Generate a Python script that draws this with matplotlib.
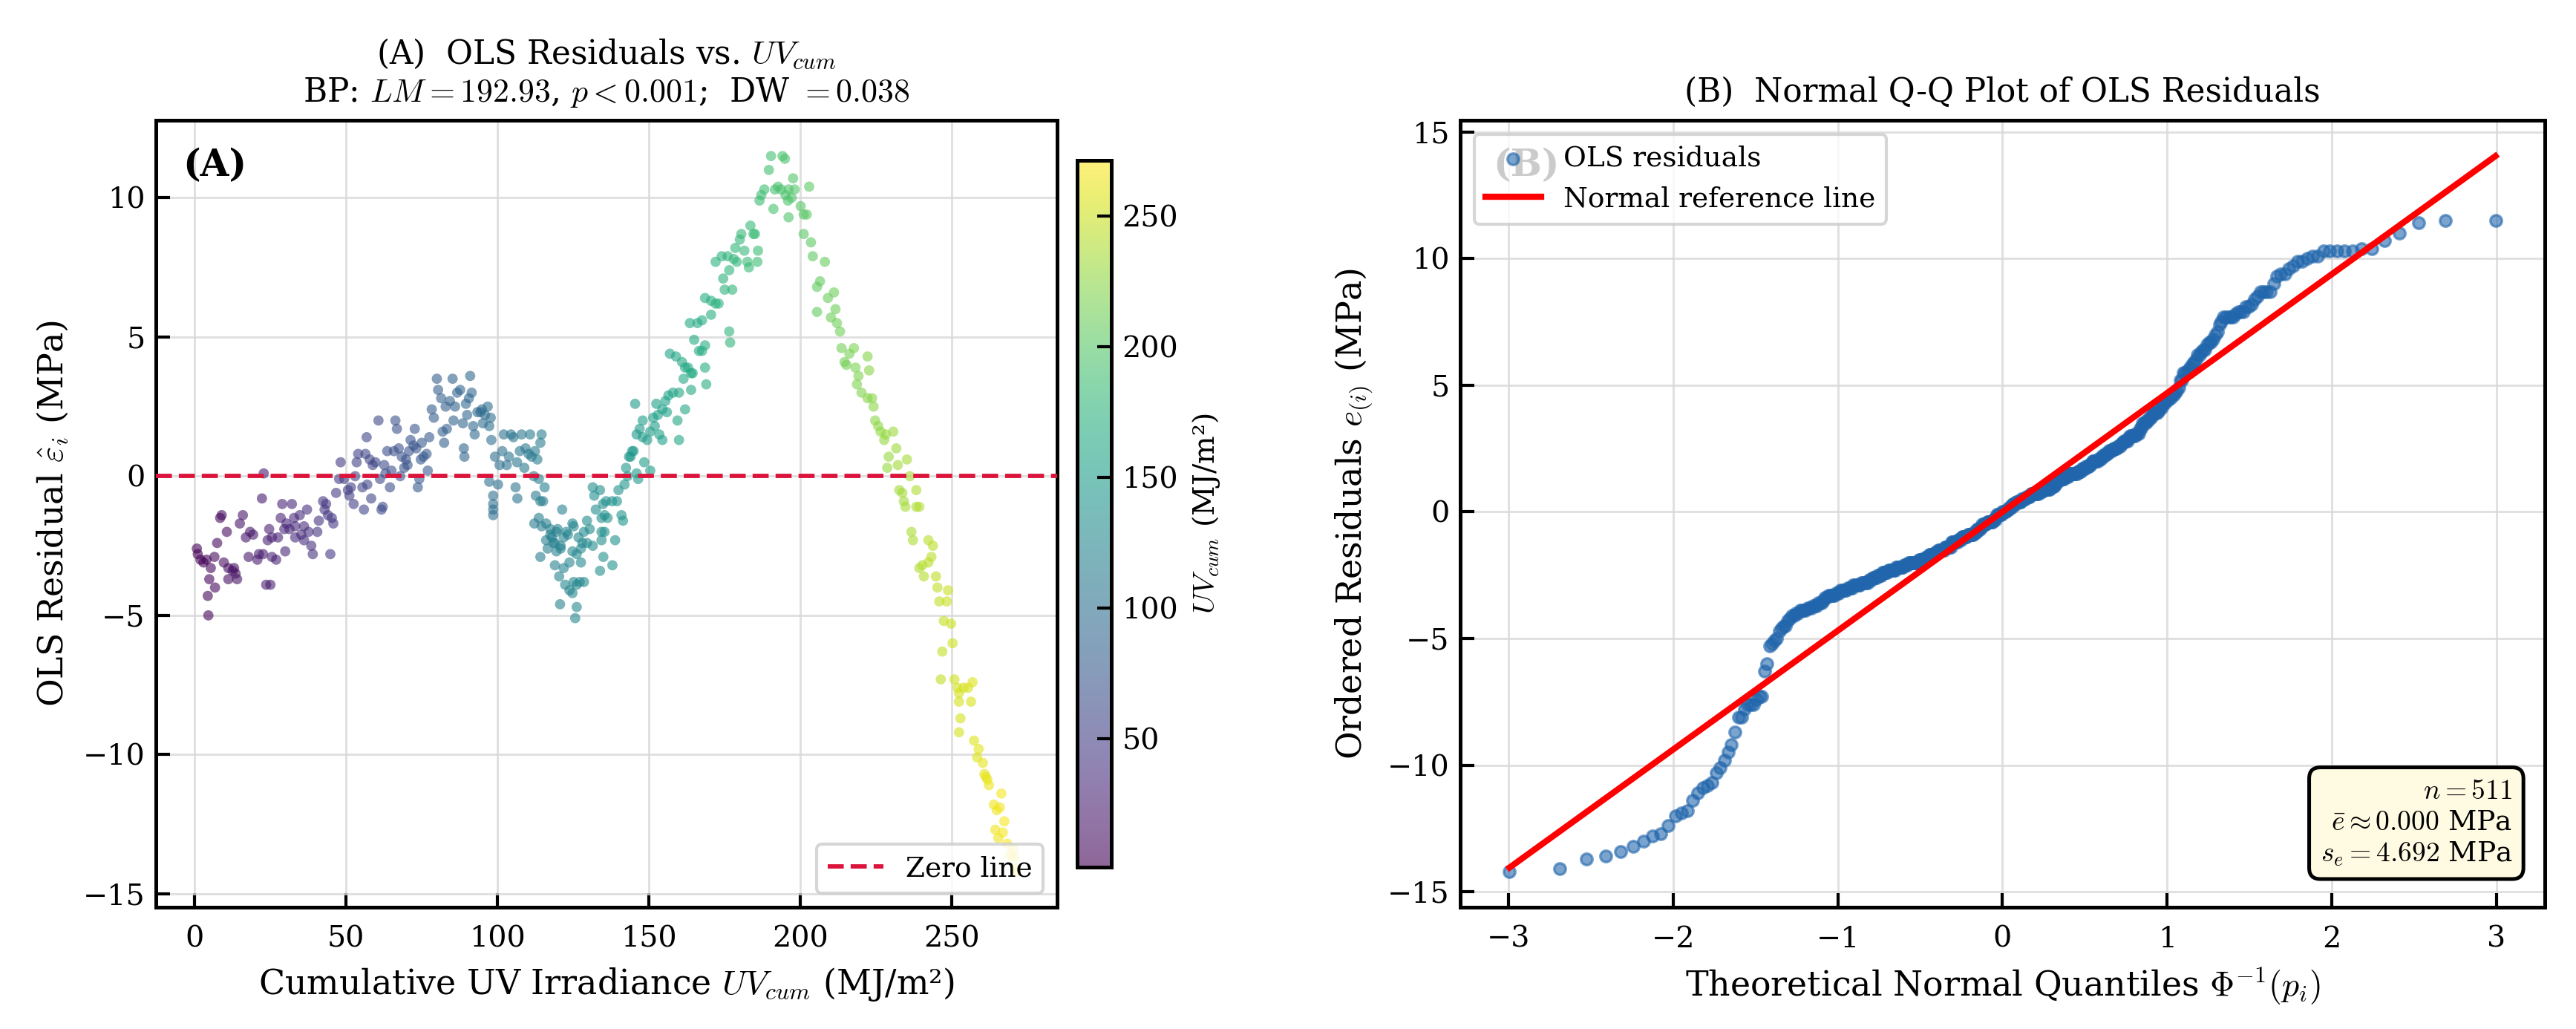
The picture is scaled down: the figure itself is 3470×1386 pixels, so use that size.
# OLS residual diagnostics: residuals vs cumulative UV, plus normal Q-Q plot

from statistics import NormalDist

import matplotlib

matplotlib.use("Agg")
import matplotlib.pyplot as plt
import numpy as np

plt.rcParams["font.family"] = ["DejaVu Serif"]
plt.rcParams["mathtext.fontset"] = "cm"

# residuals, grouped roughly by UV_cum range
uv_low = [0.7, 7.4, 8.4, 8.9, 10.6, 14.9, 15.9, 16.9, 18.3, 19.3, 22.2, 22.8, 24.6, 24.1, 25.5,
          27.5, 28.9, 28.4, 29.6, 30.3, 31.3, 32.1, 32.8, 33.2, 34.7, 35.2, 36.1, 37.1, 37.6,
          38.5, 40.5, 41.0, 42.4, 42.9, 43.4, 44.0, 45.3, 45.8, 44.8,
          1.0, 1.9, 2.9, 3.9, 5.3, 6.5, 4.8, 4.3, 6.7, 4.5, 9.6, 11.1, 12.5, 13.5, 14.0, 11.1,
          13.0, 17.8, 20.7, 21.2, 22.6, 25.5, 26.9, 23.6, 25.0, 29.9, 33.2, 36.1, 39.0]
res_low = [-2.6, -2.4, -1.5, -1.4, -2.0, -1.7, -1.4, -2.2, -2.0, -2.1, -0.8, 0.1, -1.9, -2.3, -2.2,
           -2.2, -1.0, -1.5, -1.9, -1.7, -1.9, -1.0, -1.5, -1.8, -1.4, -2.1, -1.8, -1.2, -2.0,
           -2.5, -2.0, -1.6, -0.9, -1.2, -1.0, -1.4, -1.5, -1.7, -2.8,
           -2.8, -3.0, -3.1, -3.0, -3.3, -2.9, -3.7, -4.3, -4.0, -5.0, -3.1, -3.3, -3.4, -3.5, -3.7, -3.7,
           -3.3, -2.9, -3.0, -2.8, -2.8, -2.9, -3.0, -3.9, -3.9, -2.7, -2.2, -2.3, -2.8]

uv_hump = [46.7, 48.2, 47.7, 49.4, 50.6, 51.1, 51.6, 52.5, 53.5, 54.0, 55.4, 55.9, 56.4, 56.8, 57.8,
           58.3, 58.8, 59.7, 60.7, 61.2, 61.7, 62.1, 62.6, 63.6, 64.5, 65.0, 65.8, 66.3, 66.8, 67.4,
           67.9, 68.4, 69.2, 69.8, 70.3, 71.3, 72.3, 72.7, 73.2, 74.2, 73.7, 74.7, 75.6, 76.6, 77.5,
           78.3, 79.0, 80.0, 80.4, 81.4, 82.4, 81.9, 83.3, 82.9, 84.3, 85.2, 86.0, 86.7, 87.7, 88.6,
           89.1, 88.9, 89.6, 90.6, 91.0, 91.5, 92.0, 92.5, 93.4, 94.4, 94.9, 95.9, 96.8, 97.3, 97.8,
           98.0, 70.8, 75.0, 77.0, 63.0, 57.0, 53.0, 85.5, 90.0, 95.2]
res_hump = [-0.6, 0.5, -0.1, -0.1, -0.5, -0.7, -0.4, -1.0, 0.5, 0.8, -0.4, -1.2, 0.8, 1.4, 0.6,
            -0.8, 0.4, 0.5, 2.0, -0.1, -1.2, -1.1, 0.4, 0.9, -0.4, 0.2, 0.9, 2.0, 1.7, 1.0,
            0.0, 0.7, 0.3, 0.6, 0.4, 1.3, 1.1, 1.7, 1.0, -0.1, -0.4, 0.6, 0.7, 0.8, 1.4,
            2.4, 2.1, 3.5, 3.1, 2.8, 1.2, 1.6, 1.7, 2.5, 2.7, 3.5, 2.5, 3.0, 3.1, 1.9,
            0.7, 1.0, 2.6, 2.8, 3.6, 3.0, 1.8, 1.5, 2.3, 2.3, 2.4, 2.2, 2.5, 1.8, 2.1,
            1.3, 0.9, 1.2, 0.2, 0.1, -0.3, 0.0, 2.0, 2.2, 1.9]

uv_mid = [97.3, 98.6, 98.6, 98.6, 98.6, 99.2, 100.2, 100.7, 101.6, 102.1, 103.1, 103.8, 104.5, 105.3,
          106.0, 106.5, 106.6, 107.4, 108.0, 108.9, 109.3, 110.3, 110.8, 111.3, 112.0, 112.4, 113.2,
          113.7, 114.6, 114.2, 112.7, 114.2, 115.1, 115.6]
res_mid = [-0.2, -0.7, -1.0, -1.2, -1.4, 0.7, -0.3, 0.4, 0.9, 1.5, 0.4, 0.7, 1.5, 1.4,
           -0.4, 0.5, -0.8, 0.9, 1.5, 0.3, 1.0, 0.8, 1.5, 0.7, 0.0, 0.9, 0.6,
           -0.1, 1.5, 1.2, -0.7, -0.9, -0.9, -0.4]

uv_dip = [112.2, 113.7, 114.6, 116.1, 117.5, 118.0, 119.0, 119.5, 120.9, 121.4, 121.9, 123.3, 124.8,
          126.8, 128.1, 129.6, 131.5, 132.0, 132.5, 133.9, 134.9, 135.4,
          114.2, 116.1, 116.6, 117.5, 118.5, 119.5, 119.9, 120.9, 119.0, 120.4, 121.9, 122.4, 122.8,
          123.8, 124.8, 125.2, 126.2, 127.2, 128.6, 120.7, 126.2, 125.7, 123.8, 124.8, 126.2, 127.6,
          127.6, 129.6, 131.5, 133.9, 134.4, 125.2, 128.6, 130.5,
          134.4, 136.4, 135.9, 137.9, 139.5, 141.0, 141.5, 135.4, 138.9, 140.0, 142.0, 135.0, 138.0, 134.4]
res_dip = [-1.7, -1.5, -1.8, -1.7, -1.9, -2.2, -2.4, -2.0, -2.5, -1.2, -2.2, -2.1, -1.7,
           -2.2, -2.4, -1.6, -0.4, -0.7, -1.2, -0.5, -1.0, -1.4,
           -2.9, -2.3, -2.6, -2.1, -2.4, -2.7, -1.9, -2.6, -3.2, -3.6, -3.3, -3.9, -2.0,
           -4.1, -4.2, -3.8, -3.9, -3.8, -3.8, -4.6, -4.7, -5.1, -3.1, -2.7, -2.8, -3.1,
           -2.6, -2.4, -2.5, -3.4, -2.0, -1.8, -2.0, -1.9,
           -1.5, -1.5, -0.9, -0.9, -0.9, -1.4, -1.6, -2.0, -2.3, -0.5, -0.3, -2.9, -3.2, -2.3]

uv_rise = [143.0, 142.5, 143.5, 144.5, 144.0, 146.5, 146.0, 148.5, 150.5, 145.0, 146.0, 147.0, 148.0,
           149.5, 148.0, 150.5, 152.0, 153.5, 154.5, 151.5, 152.5, 153.0, 154.5, 156.0, 155.5, 156.5,
           158.0, 160.0, 159.5, 160.0, 162.0, 164.0, 161.5, 164.0, 145.5, 157.0, 159.0, 161.0, 162.0,
           163.0, 164.5, 168.6, 169.0, 166.6, 167.6, 168.6, 165.0, 163.6, 166.1, 167.6, 170.6, 168.6,
           170.6, 172.1, 173.1, 176.6, 176.9, 175.1, 177.6, 174.6, 176.6, 172.1, 174.1, 176.1, 178.1,
           179.1, 178.6, 180.1, 180.6, 181.6, 182.6, 183.1, 183.6, 184.6, 185.1, 186.1, 185.9]
res_rise = [0.0, 0.3, 0.7, 0.9, 0.7, -0.1, 0.1, 0.5, 0.2, 0.9, 1.5, 1.7, 1.4,
            1.3, 2.0, 1.6, 1.8, 1.5, 1.3, 2.1, 2.6, 2.2, 2.4, 2.3, 2.7, 2.9,
            3.0, 3.0, 2.0, 1.3, 2.4, 3.1, 3.5, 3.7, 2.6, 4.4, 4.3, 4.1, 3.9,
            3.9, 3.7, 3.9, 3.3, 4.5, 4.5, 4.7, 4.9, 5.5, 5.5, 5.6, 5.8, 6.4,
            6.3, 6.2, 6.2, 5.2, 4.8, 6.7, 6.7, 7.1, 7.4, 7.7, 7.9, 7.9, 7.8,
            7.7, 8.2, 8.5, 8.7, 8.1, 7.7, 7.5, 9.0, 8.7, 8.7, 8.1, 7.7]

uv_peak = [186.6, 188.2, 187.2, 189.7, 190.4, 194.2, 195.0, 191.7, 192.7, 193.7, 195.2, 196.2, 198.2,
           197.7, 197.2, 191.2, 196.2, 196.0, 200.2, 201.2, 202.2, 203.0, 201.2, 203.6, 204.2, 208.2,
           206.6, 205.6, 209.2, 211.2, 205.6, 210.2, 211.7, 212.2, 213.2, 213.7, 216.3, 217.8, 214.7,
           215.3, 218.3, 222.3, 222.8, 219.3, 218.8, 220.3, 222.3, 223.8, 224.3, 224.8, 225.8, 226.6,
           228.3, 230.8, 227.8, 229.3, 231.8, 232.3, 228.8, 235.3, 236.3, 232.8, 233.8, 234.3, 234.8,
           238.4, 238.4, 239.4, 236.8, 237.3, 242.4, 243.9]
res_peak = [9.9, 10.3, 10.1, 11.0, 11.5, 11.5, 11.4, 10.3, 10.4, 10.3, 10.1, 10.3, 10.3,
            10.7, 10.0, 9.6, 9.3, 9.9, 9.7, 9.4, 9.4, 10.4, 8.7, 8.4, 7.9, 7.7,
            7.0, 6.8, 6.4, 6.6, 5.9, 5.7, 6.0, 5.5, 5.2, 4.6, 4.4, 4.6, 4.1,
            4.0, 3.9, 4.3, 3.8, 3.6, 3.3, 3.0, 2.8, 2.8, 2.5, 2.0, 1.8, 1.6,
            1.5, 1.6, 1.3, 0.7, 1.0, 0.4, 0.3, 0.6, 0.0, -0.5, -0.6, -0.9, -1.1,
            -0.5, -1.1, -1.1, -2.0, -2.3, -2.3, -2.5]

uv_fall = [243.4, 242.4, 240.4, 239.4, 240.9, 244.9, 245.4, 248.9, 246.0, 248.5, 247.5, 249.9, 250.4,
           247.0, 246.5, 251.0, 252.0, 254.0, 255.5, 257.0, 252.5, 252.5, 256.5, 253.0, 252.5, 257.5,
           259.0, 258.5, 260.4, 260.9, 261.9, 262.4, 261.4, 266.5, 264.0, 265.0, 266.0, 267.5, 264.5,
           265.5, 267.0, 268.4, 270.4, 269.5, 270.8, 271.0, 271.4]
res_fall = [-2.9, -3.1, -3.2, -3.3, -3.6, -3.6, -4.0, -4.1, -4.5, -4.5, -5.2, -5.3, -6.0,
            -6.3, -7.3, -7.3, -7.6, -7.6, -7.6, -7.4, -7.8, -8.1, -8.1, -8.7, -9.2, -9.5,
            -9.8, -10.1, -10.3, -10.7, -10.9, -11.1, -10.8, -11.4, -11.8, -12.0, -11.9, -12.4, -12.7,
            -13.0, -12.8, -13.2, -13.4, -13.6, -13.7, -14.1, -14.2]

n_label = 511
mean_label = 0.000
sd_label = 4.692
bp_lm = 192.93
dw_stat = 0.038

uv = np.array(uv_low + uv_hump + uv_mid + uv_dip + uv_rise + uv_peak + uv_fall)
resid = np.array(res_low + res_hump + res_mid + res_dip + res_rise + res_peak + res_fall)

W, H, DPI = 3470, 1386, 300
fig = plt.figure(figsize=(W / DPI, H / DPI), dpi=DPI)
ax1 = fig.add_axes([210 / W, 1 - 1222 / H, 1214 / W, 1060 / H])
cax = fig.add_axes([1451 / W, 1 - 1168 / H, 46 / W, 952 / H])
ax2 = fig.add_axes([1967 / W, 1 - 1222 / H, 1461 / W, 1060 / H])

# --- panel A
sc = ax1.scatter(uv, resid, c=uv, cmap="viridis", s=11, alpha=0.6, linewidths=0, zorder=3)
ax1.axhline(0, color="crimson", ls="--", lw=1.4, label="Zero line", zorder=4)
ax1.set_xlabel(r"Cumulative UV Irradiance $UV_{cum}$ (MJ/m²)", fontsize=11)
ax1.set_ylabel(r"OLS Residual $\hat{\varepsilon}_i$ (MPa)", fontsize=11)
ax1.set_title("(A)  OLS Residuals vs. $UV_{cum}$\n"
              f"BP: $LM = {bp_lm:.2f}$, $p < 0.001$;  DW $= {dw_stat:.3f}$", fontsize=10.5)
ax1.legend(loc="lower right", fontsize=9)
ax1.text(0.03, 0.965, "(A)", transform=ax1.transAxes, fontsize=12, fontweight="bold", va="top")

cb = fig.colorbar(sc, cax=cax)
cb.set_label(r"$UV_{cum}$ (MJ/m²)", fontsize=9.5)
cb.ax.tick_params(direction="in", length=4.5, width=1.0, labelsize=9.5)
cb.outline.set_linewidth(1.2)

# --- panel B: normal Q-Q with Blom plotting positions
n = len(resid)
ordered = np.sort(resid)
p = (np.arange(1, n + 1) - 0.375) / (n + 0.25)
q = np.array([NormalDist().inv_cdf(v) for v in p])
ax2.scatter(q, ordered, s=14, color="#2166ac", alpha=0.6, linewidths=0.8, label="OLS residuals", zorder=3)
qq = np.array([q.min(), q.max()])
# reference line from the reported mean and sd
ax2.plot(qq, mean_label + sd_label * qq, color="red", lw=2.0, label="Normal reference line", zorder=4)
ax2.set_xlabel(r"Theoretical Normal Quantiles $\Phi^{-1}(p_i)$", fontsize=11)
ax2.set_ylabel(r"Ordered Residuals $e_{(i)}$ (MPa)", fontsize=11)
ax2.set_title("(B)  Normal Q-Q Plot of OLS Residuals", fontsize=10.5)
ax2.text(0.03, 0.965, "(B)", transform=ax2.transAxes, fontsize=12, fontweight="bold", va="top")
ax2.legend(loc="upper left", fontsize=9)
ax2.text(0.97, 0.05,
         f"$n = {n_label}$\n$\\bar{{e}} \\approx {mean_label:.3f}$ MPa\n$s_e = {sd_label:.3f}$ MPa",
         transform=ax2.transAxes, ha="right", va="bottom", fontsize=9, multialignment="right",
         bbox=dict(boxstyle="round,pad=0.4", facecolor="#fffbe3", edgecolor="black", lw=1.2),
         zorder=6)

for ax in (ax1, ax2):
    ax.grid(True, color="0.85", lw=0.7, alpha=0.8)
    ax.set_axisbelow(True)
    ax.tick_params(direction="in", length=4.5, width=1.0, labelsize=9.5)
    ax.tick_params(axis="x", pad=6)
    for sp in ax.spines.values():
        sp.set_linewidth(1.2)

fig.savefig("out.png", dpi=DPI)
